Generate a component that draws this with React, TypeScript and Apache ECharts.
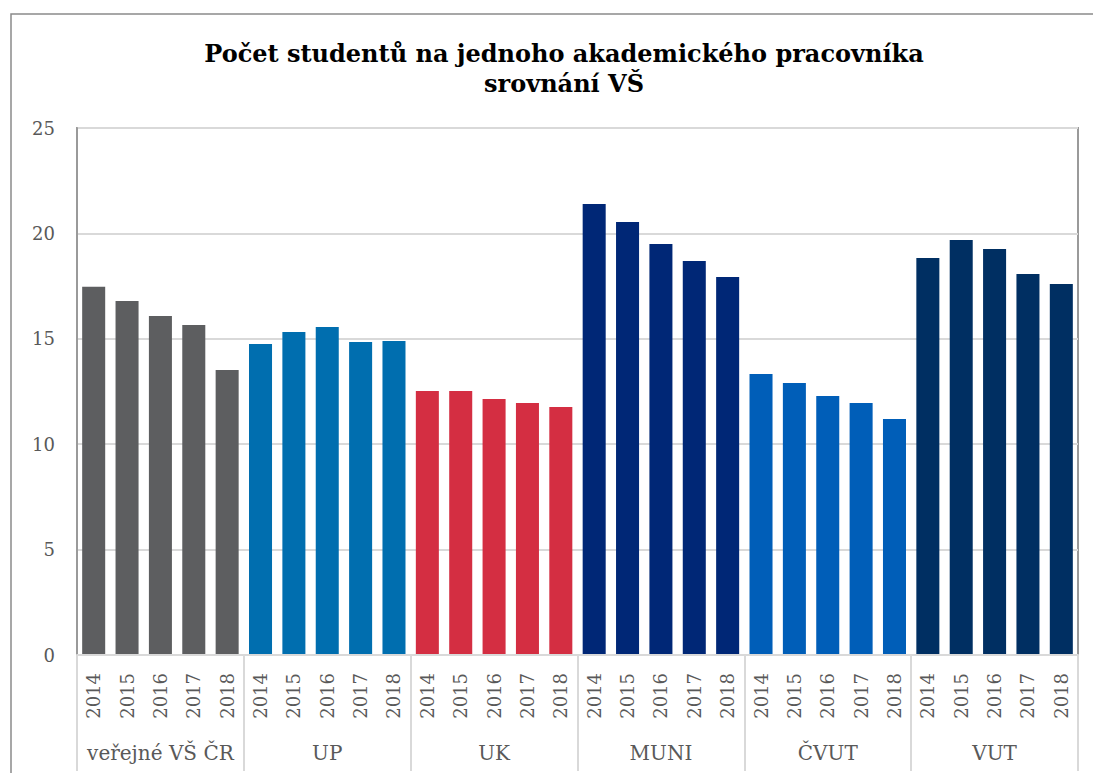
import React, { useEffect, useRef } from "react";
import * as echarts from "echarts";

const groups = ["veřejné VŠ ČR", "UP", "UK", "MUNI", "ČVUT", "VUT"];
const years = ["2014", "2015", "2016", "2017", "2018"];
const groupColors = ["#5d5e60", "#006eaf", "#d42e42", "#002776", "#005eb8", "#002f62"];
const valVS = [17.47, 16.79, 16.08, 15.65, 13.52];
const valUP = [14.75, 15.32, 15.56, 14.85, 14.9];
const valUK = [12.52, 12.52, 12.14, 11.95, 11.76];
const valMUNI = [21.39, 20.54, 19.5, 18.69, 17.93];
const valCVUT = [13.33, 12.9, 12.29, 11.95, 11.2];
const valVUT = [18.83, 19.69, 19.26, 18.07, 17.6];
const yTicks = [0, 5, 10, 15, 20, 25];

const FONT = "'DejaVu Serif', 'Liberation Serif', serif";

export default function App() {
  const ref = useRef<HTMLDivElement>(null);
  useEffect(() => {
    if (!ref.current) return;
    const chart = echarts.init(ref.current, undefined, { renderer: "svg" });
    const allVals = [valVS, valUP, valUK, valMUNI, valCVUT, valVUT];
    const cats: string[] = [];
    const data: any[] = [];
    allVals.forEach((arr, gi) => {
      arr.forEach((v, yi) => {
        cats.push(years[yi] + "_" + gi);
        data.push({ value: v, itemStyle: { color: groupColors[gi] } });
      });
    });
    chart.setOption({
      animation: false,
      title: {
        text: "Počet studentů na jednoho akademického pracovníka\nsrovnání VŠ",
        left: 559,
        top: 33,
        textAlign: "center",
        textStyle: {
          fontFamily: FONT,
          fontWeight: "bold",
          fontSize: 24,
          lineHeight: 30,
          color: "#000000",
        },
      },
      graphic: [
        {
          type: "rect",
          shape: { x: 11, y: 14, width: 1200, height: 900 },
          style: { fill: "none", stroke: "#8a8a8a", lineWidth: 1.5 },
          silent: true,
          z: -1,
        },
      ],
      grid: {
        left: 77,
        right: 15,
        top: 128,
        bottom: 118,
        show: true,
        borderColor: "#9a9a9a",
        borderWidth: 2,
        containLabel: false,
      },
      xAxis: [
        {
          type: "category",
          data: cats,
          position: "bottom",
          axisLine: { show: true, lineStyle: { color: "#d9d9d9", width: 2 } },
          axisTick: { show: false },
          axisLabel: {
            rotate: 90,
            margin: 18,
            interval: 0,
            fontFamily: FONT,
            fontSize: 18,
            color: "#595959",
            formatter: (s: string) => s.split("_")[0],
          },
          z: 5,
        },
        {
          type: "category",
          data: groups,
          position: "bottom",
          axisLine: { show: false },
          axisTick: {
            show: true,
            inside: false,
            length: 116,
            lineStyle: { color: "#d9d9d9", width: 2 },
          },
          axisLabel: {
            interval: 0,
            margin: 88,
            fontFamily: FONT,
            fontSize: 20,
            color: "#595959",
          },
        },
      ],
      yAxis: {
        type: "value",
        min: 0,
        max: 25,
        interval: 5,
        axisLine: { show: true, lineStyle: { color: "#9a9a9a", width: 2 } },
        axisTick: { show: false },
        splitLine: { lineStyle: { color: "#d9d9d9", width: 2 } },
        axisLabel: {
          margin: 22,
          fontFamily: FONT,
          fontSize: 18,
          color: "#595959",
          formatter: (v: number) => (yTicks.includes(v) ? String(v) : ""),
        },
      },
      series: [
        {
          type: "bar",
          xAxisIndex: 0,
          data,
          barCategoryGap: "31%",
        },
      ],
    });
    return () => chart.dispose();
  }, []);
  return (
    <div
      ref={ref}
      style={{ position: "fixed", left: 0, top: 0, width: 1093, height: 773, background: "#fff" }}
    />
  );
}
